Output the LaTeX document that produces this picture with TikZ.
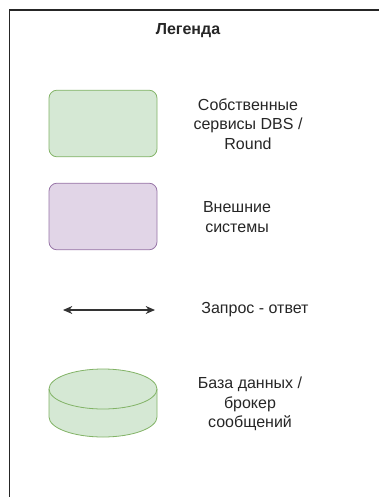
\documentclass[tikz,border=0pt]{standalone}
\usepackage{fontspec}
\setmainfont{Liberation Sans}
\usetikzlibrary{arrows.meta}

\definecolor{ownfill}{HTML}{D5E8D4}
\definecolor{ownline}{HTML}{82B366}
\definecolor{extfill}{HTML}{E1D5E7}
\definecolor{extline}{HTML}{9673A6}

\begin{document}
\begin{tikzpicture}[x=0.75pt,y=-0.75pt,
  box/.style={draw,rounded corners=6pt,minimum width=81pt,minimum height=50pt,line width=0.6pt},
  ownbox/.style={box,draw=ownline,fill=ownfill},
  extbox/.style={box,draw=extline,fill=extfill},
  dbline/.style={draw=ownline,line width=0.6pt},
  lbl/.style={align=center,font=\fontsize{12pt}{14.5pt}\selectfont,text=black!85},
  reqarrow/.style={{Stealth[length=7pt,width=6pt]}-{Stealth[length=7pt,width=6pt]},line width=0.8pt,black!80}]
\useasboundingbox (0,0) rectangle (379,497);

% frame of the legend
\draw[line width=1.1pt,black!85] (379,10) -- (9.5,10) -- (9.5,497);
\node[font=\bfseries\fontsize{12pt}{14pt}\selectfont,text=black!85] (title) at (188,31) {Легенда};

\node[ownbox] (own) at (103,123.5) {};
\node[lbl] (ownlbl) at (248,124) {Собственные\\сервисы DBS /\\Round};

\node[extbox] (ext) at (103,216.5) {};
\node[lbl] (extlbl) at (237,217) {Внешние\\системы};

\coordinate (reqL) at (63,310);
\coordinate (reqR) at (155,310);
\draw[reqarrow] (reqL) -- (reqR);
\node[lbl] (reqlbl) at (255,310) {Запрос - ответ};

% database cylinder
\coordinate (db) at (103,403);
\begin{scope}[shift={(db)}]
\fill[ownfill] (-54,-14) arc[start angle=180,end angle=360,x radius=54,y radius=20]
  -- (54,14) arc[start angle=0,end angle=180,x radius=54,y radius=20] -- cycle;
\draw[dbline] (-54,-14) arc[start angle=180,end angle=360,x radius=54,y radius=20]
  -- (54,14) arc[start angle=0,end angle=180,x radius=54,y radius=20] -- cycle;
\draw[dbline] (-54,-14) arc[start angle=180,end angle=0,x radius=54,y radius=20];
\end{scope}
\node[lbl] (dblbl) at (250,404) {База данных /\\брокер\\сообщений};
\end{tikzpicture}
\end{document}
